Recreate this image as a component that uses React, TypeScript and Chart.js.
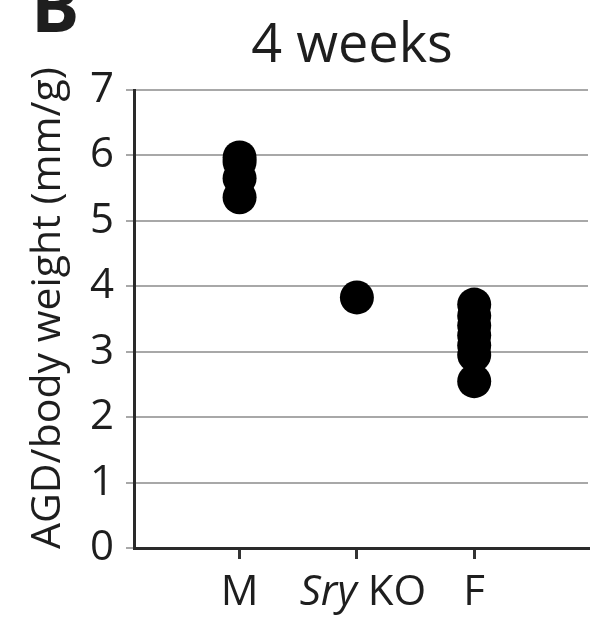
import React, { useEffect, useRef } from 'react';
import { Chart, registerables } from 'chart.js';

Chart.register(...registerables);

const categories = ['M', 'Sry KO', 'F'];
const categoryPositions = [1, 2, 3];
const maleValues = [5.97, 5.9, 5.65, 5.36];
const sryKoValues = [3.83];
const femaleValues = [3.72, 3.55, 3.4, 3.25, 3.1, 2.95, 2.55];
const yMin = 0;
const yMax = 7;
const titleText = '4 weeks';
const yAxisTitle = 'AGD/body weight (mm/g)';
const panelLabel = 'B';

const FONT = "'Open Sans', sans-serif";
const TEXT = '#1e1e1e';

const textPlugin = {
  id: 'panelText',
  afterDraw(chart: any) {
    const { ctx, scales } = chart;
    ctx.save();
    ctx.fillStyle = TEXT;
    // panel letter
    ctx.font = `bold 72px ${FONT}`;
    ctx.textAlign = 'left';
    ctx.textBaseline = 'alphabetic';
    ctx.fillText(panelLabel, 31, 32);
    // title
    ctx.font = `400 54px ${FONT}`;
    ctx.textAlign = 'center';
    ctx.fillText(titleText, 352, 62);
    // y title
    ctx.save();
    ctx.translate(60, 308);
    ctx.rotate(-Math.PI / 2);
    ctx.font = `400 41px ${FONT}`;
    ctx.textAlign = 'center';
    ctx.textBaseline = 'alphabetic';
    ctx.fillText(yAxisTitle, 0, 0);
    ctx.restore();
    // x labels
    const xs = scales.x;
    const y = 605;
    categories.forEach((cat, i) => {
      const px = xs.getPixelForValue(categoryPositions[i]);
      if (cat === 'Sry KO') {
        ctx.font = `italic 400 42px ${FONT}`;
        const w1 = ctx.measureText('Sry').width;
        ctx.font = `400 42px ${FONT}`;
        const w2 = ctx.measureText(' KO').width;
        const start = px - (w1 + w2) / 2 + 6;
        ctx.textAlign = 'left';
        ctx.font = `italic 400 42px ${FONT}`;
        ctx.fillText('Sry', start, y);
        ctx.font = `400 42px ${FONT}`;
        ctx.fillText(' KO', start + w1, y);
      } else {
        ctx.font = `400 42px ${FONT}`;
        ctx.textAlign = 'center';
        ctx.fillText(cat, px, y);
      }
    });
    ctx.restore();
  },
};

export default function App() {
  const ref = useRef<HTMLCanvasElement | null>(null);
  useEffect(() => {
    document.body.style.margin = '0';
    const canvas = ref.current;
    if (!canvas) return;
    const toPoints = (vals: number[], pos: number) => vals.map((v) => ({ x: pos, y: v }));
    const chart = new Chart(canvas, {
      type: 'scatter',
      data: {
        datasets: [
          { label: categories[0], data: toPoints(maleValues, categoryPositions[0]) },
          { label: categories[1], data: toPoints(sryKoValues, categoryPositions[1]) },
          { label: categories[2], data: toPoints(femaleValues, categoryPositions[2]) },
        ].map((d) => ({
          ...d,
          pointRadius: 17,
          pointBackgroundColor: '#000',
          pointBorderColor: '#000',
          pointBorderWidth: 0,
        })),
      },
      options: {
        animation: false,
        responsive: false,
        devicePixelRatio: 1,
        layout: { autoPadding: false, padding: { top: 90, right: 2, left: 0, bottom: 0 } },
        plugins: { legend: { display: false }, tooltip: { enabled: false }, title: { display: false } },
        scales: {
          x: {
            type: 'linear',
            min: 0.1,
            max: 3.97,
            afterBuildTicks: (scale: any) => {
              scale.ticks = categoryPositions.map((v) => ({ value: v }));
            },
            afterFit: (scale: any) => {
              scale.height = 70;
            },
            ticks: { display: false },
            grid: { drawOnChartArea: false, drawTicks: true, tickLength: 11, color: '#333', lineWidth: 3 },
            border: { display: true, color: '#2a2a2a', width: 3 },
          },
          y: {
            min: yMin,
            max: yMax,
            afterFit: (scale: any) => {
              scale.width = 134;
            },
            ticks: {
              stepSize: 1,
              color: TEXT,
              font: { family: FONT, size: 42 },
              padding: 12,
            },
            grid: { color: '#a8a8a8', lineWidth: 2, tickLength: 8 },
            border: { display: true, color: '#2a2a2a', width: 3 },
          },
        },
      },
      plugins: [textPlugin],
    });
    return () => chart.destroy();
  }, []);
  return (
    <div style={{ position: 'absolute', left: 0, top: 0, width: 590, height: 618, background: '#fff' }}>
      <canvas ref={ref} width={590} height={618} style={{ width: 590, height: 618 }} />
    </div>
  );
}
